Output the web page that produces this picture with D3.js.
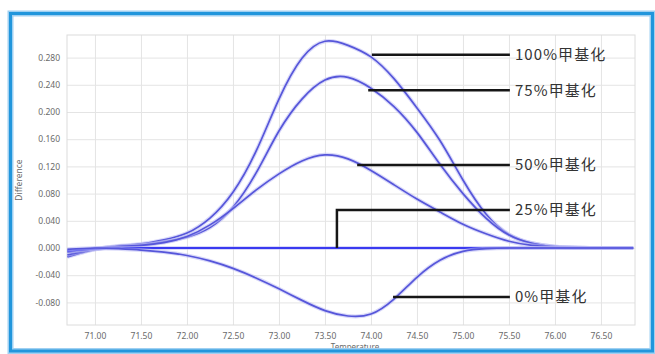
<!DOCTYPE html>
<html><head><meta charset="utf-8">
<script src="https://cdn.jsdelivr.net/npm/d3@7"></script>
<style>
html,body{margin:0;padding:0;background:#fff;}
svg{display:block;}
</style></head>
<body>
<svg id="chart" width="655" height="354"></svg>
<script>
// ---- data ----
const temps = [70.70, 71.00, 71.25, 71.50, 71.75, 72.00, 72.25, 72.50, 72.75, 73.00, 73.25, 73.50, 73.75, 74.00, 74.25, 74.50, 74.75, 75.00, 75.25, 75.50, 75.75, 76.00, 76.25, 76.50, 76.85];
const pct100 = [-0.013, -0.002, 0.003, 0.006, 0.012, 0.022, 0.044, 0.082, 0.142, 0.219, 0.279, 0.304, 0.298, 0.281, 0.249, 0.206, 0.158, 0.100, 0.050, 0.020, 0.007, 0.002, 0.0005, 0, 0];
const pct75  = [-0.010, -0.002, 0.002, 0.004, 0.009, 0.016, 0.030, 0.060, 0.110, 0.172, 0.219, 0.247, 0.251, 0.235, 0.208, 0.170, 0.123, 0.080, 0.044, 0.019, 0.007, 0.002, 0.0005, 0, 0];
const pct50  = [-0.006, -0.001, 0.002, 0.004, 0.008, 0.017, 0.034, 0.058, 0.085, 0.109, 0.128, 0.137, 0.131, 0.114, 0.093, 0.072, 0.053, 0.035, 0.021, 0.010, 0.004, 0.0015, 0.0005, 0, 0];
const pct25  = [-0.004, -0.001, 0.000, 0.000, 0.000, 0.000, 0.000, 0.000, 0.000, 0.000, 0.000, 0.000, 0.000, 0.000, 0.000, 0.000, 0.000, 0.000, 0.000, 0.000, 0.000, 0.000, 0.000, 0, 0];
const pct0   = [-0.002, 0.000, -0.001, -0.003, -0.006, -0.011, -0.019, -0.030, -0.044, -0.060, -0.077, -0.092, -0.100, -0.097, -0.075, -0.043, -0.018, -0.005, -0.001, 0, 0, 0, 0, 0, 0];

const seriesNames = ["100%甲基化", "75%甲基化", "50%甲基化", "25%甲基化", "0%甲基化"];
const seriesValues = [pct100, pct75, pct50, pct25, pct0];

// annotation leader lines (data coordinates): start point on curve, label level
const annotStartT = [74.01, 73.97, 73.85, 73.63, 74.24];
const annotStartV = [0.284, 0.232, 0.122, 0.000, -0.072];
const annotLabelV = [0.284, 0.232, 0.122, 0.056, -0.072];
const annotEndT = 75.51;

const xTicks = [71.0, 71.5, 72.0, 72.5, 73.0, 73.5, 74.0, 74.5, 75.0, 75.5, 76.0, 76.5];
const yTicks = [-0.08, -0.04, 0.0, 0.04, 0.08, 0.12, 0.16, 0.20, 0.24, 0.28];
const xDomain = [70.696, 76.870];
const yDomain = [-0.1132, 0.3132];

// ---- layout ----
const svg = d3.select("#chart");
const M = {left: 67, top: 35, right: 635, bottom: 325};
const x = d3.scaleLinear().domain(xDomain).range([M.left, M.right]);
const y = d3.scaleLinear().domain(yDomain).range([M.bottom, M.top]);
const W = M.right - M.left, H = M.bottom - M.top;

svg.append("rect").attr("width", 655).attr("height", 354).attr("fill", "#fff");

// grid via axes
const gx = svg.append("g").attr("transform", `translate(0,${M.bottom})`)
  .call(d3.axisBottom(x).tickValues(xTicks).tickSize(-H).tickPadding(8)
    .tickFormat(d => d3.format(".2f")(d)));
const gy = svg.append("g").attr("transform", `translate(${M.left},0)`)
  .call(d3.axisLeft(y).tickValues(yTicks).tickSize(-W).tickPadding(7)
    .tickFormat(d => d3.format(".3f")(d).replace("\u2212", "-")));
[gx, gy].forEach(g => {
  g.select(".domain").remove();
  g.selectAll(".tick line").attr("stroke", "#e4e4e4").attr("stroke-width", 1);
  g.selectAll(".tick text").attr("fill", "#6a6a6a")
    .style("font-family", "'Noto Sans', 'DejaVu Sans', sans-serif").style("font-size", "8.5px");
});

// plot border
svg.append("rect").attr("x", M.left).attr("y", M.top).attr("width", W).attr("height", H)
  .attr("fill", "none").attr("stroke", "#dcdcdc").attr("stroke-width", 1);

// axis titles
svg.append("text").attr("transform", `translate(22,${(M.top + M.bottom) / 2}) rotate(-90)`)
  .attr("text-anchor", "middle").attr("fill", "#6a6a6a")
  .style("font-family", "'Noto Sans', sans-serif").style("font-size", "8.5px").text("Difference");
svg.append("text").attr("x", 355).attr("y", 349.5)
  .attr("text-anchor", "middle").attr("fill", "#6a6a6a")
  .style("font-family", "'Noto Sans', sans-serif").style("font-size", "8px").text("Temperature");

// curves
const line = d3.line().x(d => x(d[0])).y(d => y(d[1])).curve(d3.curveNatural);
seriesValues.forEach((vals, i) => {
  const pts = temps.map((t, j) => [t, vals[j]]);
  svg.append("path").datum(pts).attr("d", line).attr("fill", "none")
    .attr("stroke", "#b9b9f4").attr("stroke-width", 4).attr("stroke-opacity", 0.55);
  svg.append("path").datum(pts).attr("d", line).attr("fill", "none")
    .attr("stroke", i === 3 ? "#3a3af0" : "#5656da").attr("stroke-width", i === 3 ? 2 : 1.7);
});

// annotations
seriesNames.forEach((name, i) => {
  const pts = [[x(annotStartT[i]), y(annotStartV[i])]];
  if (annotLabelV[i] !== annotStartV[i]) pts.push([x(annotStartT[i]), y(annotLabelV[i])]);
  pts.push([x(annotEndT), y(annotLabelV[i])]);
  svg.append("path").attr("d", d3.line()(pts)).attr("fill", "none")
    .attr("stroke", "#161616").attr("stroke-width", 2.5);
  svg.append("text").attr("x", x(annotEndT) + 5).attr("y", y(annotLabelV[i]))
    .attr("dy", "0.36em").attr("fill", "#333")
    .style("font-family", "'Noto Sans CJK SC', 'Noto Sans', sans-serif")
    .style("font-size", "15px").style("font-weight", 400).style("letter-spacing", "1.1px")
    .text(name);
});

// outer frame
svg.append("rect").attr("x", 10.5).attr("y", 13.5).attr("width", 642).attr("height", 337.5)
  .attr("fill", "none").attr("stroke", "#9fd0f2").attr("stroke-width", 6);
svg.append("rect").attr("x", 10.5).attr("y", 13.5).attr("width", 642).attr("height", 337.5)
  .attr("fill", "none").attr("stroke", "#2196dc").attr("stroke-width", 3);
</script>
</body></html>
